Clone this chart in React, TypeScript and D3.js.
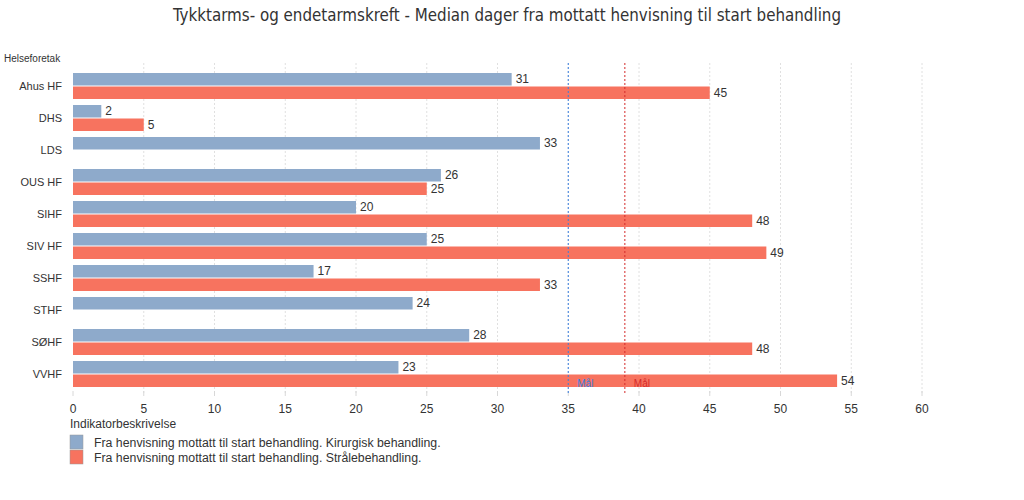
import React from "react";
import * as d3 from "d3";

const categories = ["Ahus HF", "DHS", "LDS", "OUS HF", "SIHF", "SIV HF", "SSHF", "STHF", "SØHF", "VVHF"];
const kirurgisk: (number | null)[] = [31, 2, 33, 26, 20, 25, 17, 24, 28, 23];
const straale: (number | null)[] = [45, 5, null, 25, 48, 49, 33, null, 48, 54];
const seriesNames = [
  "Fra henvisning mottatt til start behandling. Kirurgisk behandling.",
  "Fra henvisning mottatt til start behandling. Strålebehandling.",
];
const xTicks = [0, 5, 10, 15, 20, 25, 30, 35, 40, 45, 50, 55, 60];
const goals = [
  { value: 35, label: "Mål", color: "#3a7fe0" },
  { value: 39, label: "Mål", color: "#d42a2a" },
];

const W = 1024;
const H = 500;
const colors = ["#8eaacb", "#f7735f"];
const font = "'Liberation Sans', Arial, sans-serif";

export default function App() {
  const x = d3.scaleLinear().domain([0, 60]).range([73, 922]);
  const y = d3.scaleBand<string>().domain(categories).range([70, 390]).paddingInner(0).paddingOuter(0);
  const bandH = y.bandwidth();
  const barH = 12.5;
  const series = [kirurgisk, straale];

  return (
    <svg width={W} height={H} style={{ position: "absolute", left: 0, top: 0, background: "#fff" }}>
      <text x={507} y={21} textAnchor="middle" fontFamily="'DejaVu Sans Condensed', 'DejaVu Sans', sans-serif" fontSize={16.8} fill="#333">
        Tykktarms- og endetarmskreft - Median dager fra mottatt henvisning til start behandling
      </text>
      <text x={4} y={62} fontFamily={font} fontSize={10} fill="#333">Helseforetak</text>

      {xTicks.map((t) => (
        <g key={t}>
          {t > 0 && (
            <line x1={x(t)} x2={x(t)} y1={63} y2={393} stroke="#e0e0e0" strokeDasharray="2,2" />
          )}
          <line x1={x(t)} x2={x(t)} y1={391} y2={396} stroke="#d8d8d8" />
          <text x={x(t)} y={413} textAnchor="middle" fontFamily={font} fontSize={12} fill="#333">{t}</text>
        </g>
      ))}

      {categories.map((c, i) => {
        const top = y(c)!;
        const mid = top + bandH / 2;
        return (
          <g key={c}>
            <text x={62} y={mid + 4} textAnchor="end" fontFamily={font} fontSize={11} fill="#333">{c}</text>
            {series.map((s, k) => {
              const v = s[i];
              if (v == null) return null;
              const by = k === 0 ? mid - barH - 0.5 : mid + 0.5;
              return (
                <g key={k}>
                  <rect x={x(0)} y={by} width={x(v) - x(0)} height={barH} fill={colors[k]} />
                  <text x={x(v) + 4} y={by + barH / 2 + 4} fontFamily={font} fontSize={12} fill="#333">{v}</text>
                </g>
              );
            })}
          </g>
        );
      })}

      {goals.map((g, i) => (
        <g key={i}>
          <line x1={x(g.value)} x2={x(g.value)} y1={63} y2={393} stroke={g.color} strokeDasharray="2,2" strokeWidth={1} />
          <text x={x(g.value) + 9} y={387} fontFamily={font} fontSize={10} fill={g.color}>{g.label}</text>
        </g>
      ))}

      <text x={70} y={428} fontFamily={font} fontSize={12} fill="#333">Indikatorbeskrivelse</text>
      {seriesNames.map((n, k) => (
        <g key={k}>
          <rect x={70} y={435 + k * 15} width={13} height={14} fill={colors[k]} stroke="#999" strokeWidth={0.5} />
          <text x={94} y={447 + k * 15} fontFamily={font} fontSize={12.3} fill="#333">{n}</text>
        </g>
      ))}
    </svg>
  );
}
